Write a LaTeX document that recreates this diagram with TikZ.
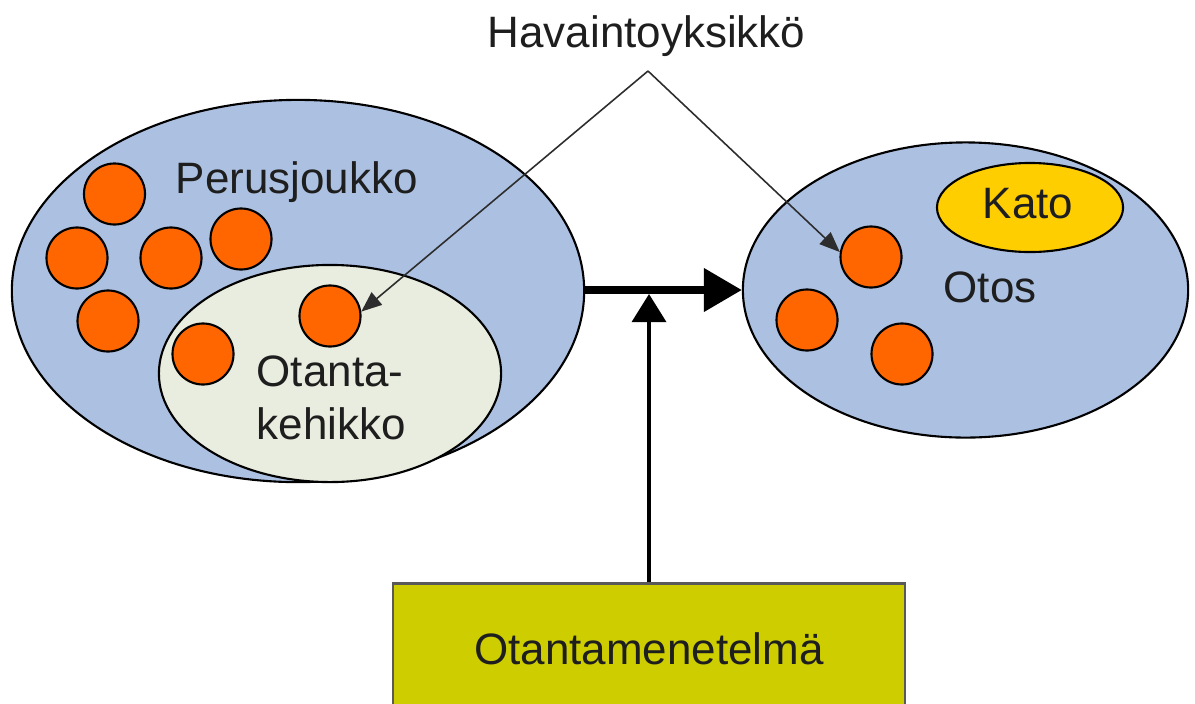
\documentclass[tikz,border=0pt]{standalone}
\usepackage{fontspec}
\setmainfont{Liberation Sans}
\usetikzlibrary{shapes.geometric,arrows.meta}
\definecolor{popblue}{RGB}{172,193,226}
\definecolor{framefill}{RGB}{233,237,223}
\definecolor{unitorange}{RGB}{255,102,0}
\definecolor{katoyellow}{RGB}{255,206,0}
\definecolor{boxolive}{RGB}{205,205,0}
\definecolor{txt}{RGB}{30,30,30}
\definecolor{thinline}{RGB}{45,45,45}
\tikzset{
  lbl/.style={font=\fontsize{12.5}{15.1}\selectfont, text=txt, inner sep=0pt},
  bigell/.style={ellipse, draw=black, line width=0.6pt, inner sep=0pt},
  unit/.style={circle, draw=black, fill=unitorange, line width=0.6pt, minimum size=0.61cm, inner sep=0pt},
  pointer/.style={draw=thinline, line width=0.45pt, -{Triangle[length=5.8pt,width=4.6pt]}},
  mainarrow/.style={draw=black, line width=2pt, -{Triangle[length=10.8pt,width=12pt]}},
  methodarrow/.style={draw=black, line width=1pt, -{Triangle[length=8pt,width=9.7pt]}},
  methodbox/.style={rectangle, draw=black!65, fill=boxolive, line width=0.7pt, minimum width=5.12cm, minimum height=1.3cm, inner sep=0pt, font=\fontsize{12.5}{15.1}\selectfont, text=txt}
}
\begin{document}
\begin{tikzpicture}[x=0.01cm,y=-0.01cm]
\useasboundingbox (0,0) rectangle (1195,703);
% population
\node[bigell, fill=popblue, minimum width=5.72cm, minimum height=3.82cm] (pop) at (298,291) {};
\node[bigell, fill=framefill, minimum width=3.42cm, minimum height=2.17cm] (frame) at (330,373.5) {};
\node[lbl, anchor=base west] (poplbl) at (175,193) {Perusjoukko};
\node[lbl, anchor=north west, align=left] (framelbl) at (256,355) {Otanta-\\kehikko};
\node[unit] (c1) at (114.5,194) {};
\node[unit] (c2) at (77,258) {};
\node[unit] (c3) at (171,258) {};
\node[unit] (c4) at (241,239) {};
\node[unit] (c5) at (108,321) {};
\node[unit] (c6) at (203,354) {};
\node[unit] (c7) at (330,316) {};
% sample
\node[bigell, fill=popblue, minimum width=4.45cm, minimum height=2.95cm] (sample) at (965.5,290) {};
\node[bigell, fill=katoyellow, minimum width=1.86cm, minimum height=0.89cm] (kato) at (1030,207.5) {};
\node[lbl, anchor=base west] (katolbl) at (982,218) {Kato};
\node[lbl, anchor=base west] (otoslbl) at (943,302) {Otos};
\node[unit] (r1) at (871,257) {};
\node[unit] (r2) at (807,320) {};
\node[unit] (r3) at (902,354) {};
% method box
\node[methodbox] (method) at (649,648.5) {Otantamenetelm\"a};
% arrows
\coordinate (pe) at (pop.east |- 0,290);
\coordinate (se) at (sample.west |- 0,290);
\draw[mainarrow] (pe) -- (se);
\coordinate (join) at (method.north |- 0,294);
\draw[methodarrow] (method.north) -- (join);
% observation unit
\node[lbl, anchor=base west] (obs) at (487,47) {Havaintoyksikk\"o};
\coordinate (apex) at (648,71);
\draw[pointer] (apex) -- (c7.8);
\draw[pointer] (apex) -- (r1.171);
\end{tikzpicture}
\end{document}
